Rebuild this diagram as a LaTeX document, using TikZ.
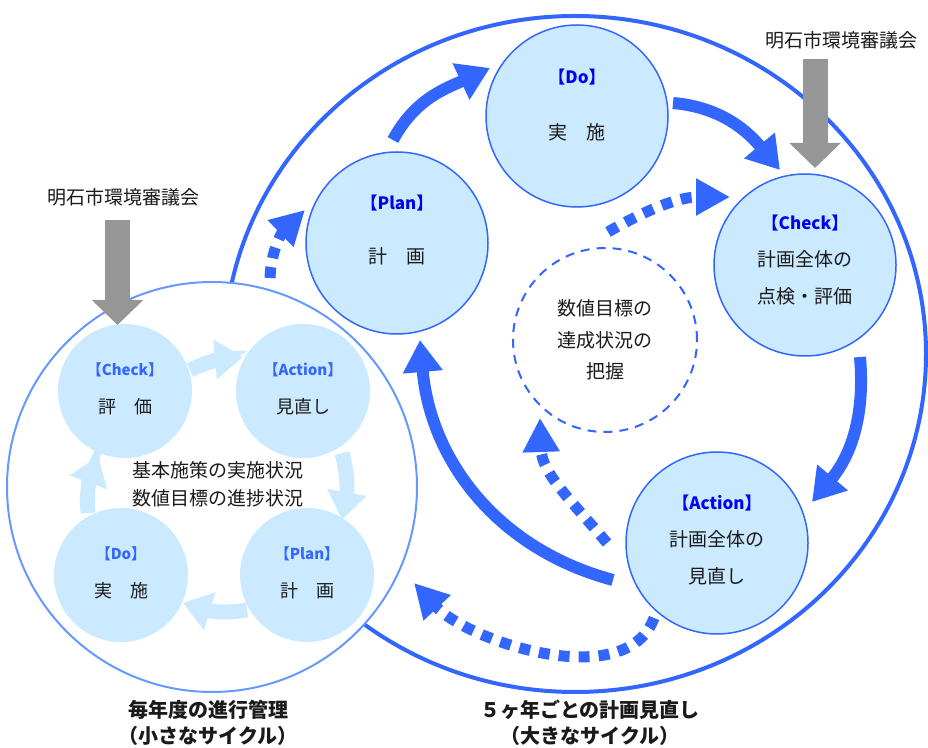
\documentclass[tikz,border=0pt]{standalone}
\usepackage{fontspec}
\setmainfont{Noto Sans CJK JP}
\usepackage{tikz}
\usetikzlibrary{arrows.meta}
\definecolor{cemberMavi}{HTML}{3366FF}
\definecolor{dolguMavi}{HTML}{CCEAFF}
\definecolor{kucukCizgi}{HTML}{6699FF}
\definecolor{etiketMavi}{HTML}{0000EE}
\definecolor{griOk}{HTML}{969696}
\definecolor{yaziSiyah}{HTML}{1A1A1A}

\begin{document}
\begin{tikzpicture}[x=1pt,y=1pt,
  buyukDaire/.style={circle,draw=cemberMavi,line width=1.5pt,fill=dolguMavi,minimum size=182pt,inner sep=0pt},
  kucukDaire/.style={circle,fill=dolguMavi,minimum size=134pt,inner sep=0pt},
  yazi/.style={font=\fontsize{19}{37}\selectfont,align=center,text=yaziSiyah},
  kucukYazi/.style={font=\fontsize{18}{38}\selectfont,align=center,text=yaziSiyah},
  altYazi/.style={font=\bfseries\fontsize{20}{26}\selectfont,align=center,text=yaziSiyah},
  buyukOk/.style={cemberMavi,line width=12pt,-{Triangle[length=32pt,width=38pt]}},
  noktaOk/.style={cemberMavi,line width=11pt,dash pattern=on 11pt off 9pt,-{Triangle[length=34pt,width=35pt]}},
  acikOk/.style={dolguMavi,line width=15pt,-{Triangle[length=28pt,width=38pt]}},
  griCizgi/.style={griOk,line width=25pt,-{Triangle[length=25pt,width=50pt]}}]
\useasboundingbox (0,0) rectangle (928,747);

% buyuk ve kucuk donguler
\draw[cemberMavi,line width=4pt] (575,393) ellipse [x radius=351pt,y radius=338pt];
\node[circle,draw=kucukCizgi,line width=2pt,fill=white,minimum size=410pt,inner sep=0pt] (yillik) at (212,260) {};

\node[buyukDaire] (bPlan) at (397,504) {};
\node[buyukDaire] (bDo) at (577,631) {};
\node[buyukDaire] (bCheck) at (805,482) {};
\node[buyukDaire] (bAction) at (717,204) {};
\node[circle,draw=cemberMavi,line width=2pt,dash pattern=on 9pt off 7pt,minimum size=184pt,inner sep=0pt] (bHedef) at (605,407) {};

\node[yazi] (bPlanYazi) at ([yshift=13pt]bPlan.center) {{\color{etiketMavi}\bfseries\fontsize{17}{37}\selectfont 【Plan】}\\[17pt]計　画};
\node[yazi] (bDoYazi) at ([yshift=11pt]bDo.center) {{\color{etiketMavi}\bfseries\fontsize{17}{37}\selectfont 【Do】}\\[19pt]実　施};
\node[yazi] (bCheckYazi) at ([yshift=5pt]bCheck.center) {{\color{etiketMavi}\bfseries\fontsize{17}{37}\selectfont 【Check】}\\計画全体の\\点検・評価};
\node[yazi] (bActionYazi) at ([yshift=3pt]bAction.center) {{\color{etiketMavi}\bfseries\fontsize{17}{37}\selectfont 【Action】}\\計画全体の\\見直し};
\node[yazi,font=\fontsize{19}{31.5}\selectfont] (bHedefYazi) at (bHedef.center) {数値目標の\\達成状況の\\把握};

\node[kucukDaire] (sCheck) at (125,356) {};
\node[kucukDaire] (sAction) at (303,356) {};
\node[kucukDaire] (sDo) at (121,172) {};
\node[kucukDaire] (sPlan) at (307,172) {};

\node[kucukYazi] (sCheckYazi) at ([yshift=2pt]sCheck.center) {{\color{cemberMavi}\bfseries\fontsize{15}{38}\selectfont 【Check】}\\評　価};
\node[kucukYazi] (sActionYazi) at ([yshift=2pt]sAction.center) {{\color{cemberMavi}\bfseries\fontsize{15}{38}\selectfont 【Action】}\\見直し};
\node[kucukYazi] (sDoYazi) at ([yshift=2pt]sDo.center) {{\color{cemberMavi}\bfseries\fontsize{15}{38}\selectfont 【Do】}\\実　施};
\node[kucukYazi] (sPlanYazi) at ([yshift=2pt]sPlan.center) {{\color{cemberMavi}\bfseries\fontsize{15}{38}\selectfont 【Plan】}\\計　画};
\node[yazi,font=\fontsize{19}{28}\selectfont] (durum) at (218,263) {基本施策の実施状況\\数値目標の進捗状況};

% kucuk dongu oklari
\draw[acikOk] ([shift={(65,21)}]sCheck.center) to[out=25,in=185] ([shift={(-60,34)}]sAction.center);
\draw[acikOk] ([shift={(39,-62)}]sAction.center) to[out=-75,in=80] ([shift={(35,55)}]sPlan.center);
\draw[acikOk] ([shift={(-60,-35)}]sPlan.center) to[out=190,in=-17] ([shift={(62,-28)}]sDo.center);
\draw[acikOk] ([shift={(-33,62)}]sDo.center) to[out=95,in=250] ([shift={(-27,-65)}]sCheck.center);

% buyuk dongu oklari
\draw[buyukOk] ([shift={(-4,103)}]bPlan.center) to[out=62,in=205] ([shift={(-87,48)}]bDo.center);
\draw[buyukOk] ([shift={(96,13)}]bDo.center) to[out=-5,in=130] ([shift={(-25,95)}]bCheck.center);
\draw[buyukOk] ([shift={(55,-92)}]bCheck.center) to[out=-85,in=50] ([shift={(95,41)}]bAction.center);
\draw[buyukOk] ([shift={(-104,-37)}]bAction.center) to[out=165,in=-85] ([shift={(23,-97)}]bPlan.center);

\draw[noktaOk] ([shift={(-63,-75)}]bAction.center) to[out=-110,in=-47,looseness=0.85] ([shift={(202,-96)}]yillik.center);
\draw[noktaOk] ([shift={(58,209)}]yillik.center) to[out=88,in=224] ([shift={(-92,33)}]bPlan.center);
\draw[noktaOk] ([shift={(-110,0)}]bAction.center) to[out=130,in=-88] ([shift={(-65,-78)}]bHedef.center);
\draw[noktaOk] ([shift={(3,108)}]bHedef.center) to[out=30,in=180] ([shift={(-75,68)}]bCheck.center);

%審議会
\node[yazi] (konseyL) at (123,550) {明石市環境審議会};
\node[yazi] (konseyR) at (841,707) {明石市環境審議会};
\draw[griCizgi] ([shift={(-5.5,-23)}]konseyL.center) -- ([shift={(-7.5,66)}]sCheck.center);
\draw[griCizgi] ([shift={(-26,-19)}]konseyR.center) -- ([shift={(10,97)}]bCheck.center);

\node[altYazi] (yillikBaslik) at (208,24) {毎年度の進行管理\\（小さなサイクル）};
\node[altYazi] (bBaslik) at (590,24) {５ヶ年ごとの計画見直し\\（大きなサイクル）};
\end{tikzpicture}
\end{document}
